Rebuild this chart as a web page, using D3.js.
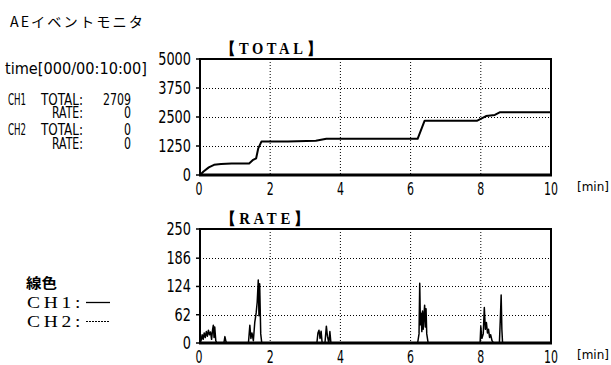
<!DOCTYPE html>
<html>
<head>
<meta charset="utf-8">
<script src="https://cdn.jsdelivr.net/npm/d3@7"></script>
<style>
  body { margin: 0; background: #fff; }
  text { fill: #000; }
</style>
</head>
<body>
<div id="chart"></div>
<script>
const width = 611;
const height = 365;

// CH1 cumulative total (minutes, count)
const totalTime = [0, 0.1, 0.25, 0.4, 0.6, 0.9, 1.4, 1.5, 1.6, 1.66, 1.75, 2.5, 3.3, 3.6, 4.0, 6.2, 6.4, 7.9, 8.15, 8.4, 8.55, 10];
const totalValue = [0, 150, 330, 440, 470, 500, 500, 640, 720, 1150, 1440, 1440, 1480, 1560, 1560, 1560, 2340, 2340, 2540, 2590, 2709, 2709];

// CH1 rate (minutes, events)
const rateTime = [0, 0.03, 0.06, 0.09, 0.12, 0.15, 0.18, 0.21, 0.24, 0.27, 0.3, 0.33, 0.36, 0.38, 0.4, 0.42, 0.45, 0.48,
  0.68, 0.71, 0.74, 0.77, 1.38, 1.42, 1.45, 1.48, 1.52, 1.56, 1.6, 1.63, 1.66, 1.68, 1.7, 1.73, 1.76,
  3.33, 3.36, 3.39, 3.42, 3.45, 3.48, 3.56, 3.6, 3.63, 3.67, 3.7, 3.73,
  6.2, 6.24, 6.26, 6.28, 6.3, 6.32, 6.34, 6.36, 6.38, 6.4, 6.42, 6.44, 6.46, 6.5,
  7.98, 8.0, 8.03, 8.07, 8.1, 8.13, 8.16, 8.19, 8.22, 8.25, 8.28, 8.32, 8.36,
  8.53, 8.56, 8.58, 8.6, 8.62, 10];
const rateValue = [0, 5, 18, 8, 22, 12, 25, 15, 28, 18, 24, 8, 30, 39, 12, 35, 5, 0,
  0, 14, 3, 0, 0, 39, 10, 22, 5, 45, 66, 90, 138, 60, 130, 20, 0,
  0, 22, 28, 10, 26, 0, 0, 37, 15, 0, 25, 0,
  0, 20, 131, 40, 65, 25, 70, 30, 60, 83, 35, 75, 20, 0,
  0, 36, 10, 20, 78, 30, 45, 22, 30, 12, 18, 5, 0,
  0, 60, 105, 30, 0, 0];

const xTicks = [0, 2, 4, 6, 8, 10];
const totalTicks = [0, 1250, 2500, 3750, 5000];
const rateTicks = [0, 62, 124, 186, 250];

const infoLines = [
  ["CH1", "TOTAL:", "2709"],
  ["", "RATE:", "0"],
  ["CH2", "TOTAL:", "0"],
  ["", "RATE:", "0"]
];

const numFont = "'DejaVu Sans Condensed', 'DejaVu Sans', sans-serif";
const serifFont = "'Liberation Serif', serif";
const cjkFont = "'Noto Sans CJK JP', sans-serif";

const svg = d3.select("#chart")
  .append("svg")
  .attr("width", width)
  .attr("height", height);

// text squeezed/stretched horizontally to a given width, height kept
function label(x, y, str, size, len, opt = {}) {
  const g = svg.append("g");
  const t = g.append("text")
    .attr("font-family", opt.family || numFont)
    .attr("font-size", size)
    .attr("font-weight", opt.weight || "normal")
    .attr("letter-spacing", opt.spacing || 0)
    .attr("text-anchor", opt.anchor || "start")
    .text(str);
  const w = t.node().getComputedTextLength();
  const sx = len && w ? len / w : 1;
  g.attr("transform", `translate(${x},${y}) scale(${sx},1)`);
  return t;
}

// header
label(10, 27, "AEイベントモニタ", 14, 135, { family: cjkFont, spacing: 2 });
label(5, 74, "time[000/00:10:00]", 16, 142);

infoLines.forEach((row, i) => {
  const y = [105, 118, 135, 149][i];
  if (row[0]) label(8, y, row[0], 16, 18);
  label(83, y, row[1], 16, row[1] === "TOTAL:" ? 42 : 31, { anchor: "end" });
  label(131, y, row[2], 16, row[2].length * 7, { anchor: "end" });
});

// legend
label(26, 288, "線色", 14, 31, { family: cjkFont, weight: "bold" });
label(27, 308, "CH1:", 16, 57, { family: serifFont, spacing: 3 });
label(27, 327, "CH2:", 16, 57, { family: serifFont, spacing: 3 });
svg.append("line").attr("x1", 86).attr("x2", 110).attr("y1", 302.5).attr("y2", 302.5)
  .attr("stroke", "#000").attr("stroke-width", 1.3);
svg.append("line").attr("x1", 86).attr("x2", 110).attr("y1", 321.5).attr("y2", 321.5)
  .attr("stroke", "#000").attr("stroke-width", 1).attr("stroke-dasharray", "2,1");

function drawPanel(cfg) {
  const x = d3.scaleLinear().domain([0, 10]).range([200, 551]);
  const y = d3.scaleLinear().domain([0, cfg.max]).range([cfg.bottom, cfg.top]);

  // dotted grid
  svg.append("g")
    .selectAll("line")
    .data(xTicks.slice(1, -1))
    .join("line")
    .attr("x1", d => x(d)).attr("x2", d => x(d))
    .attr("y1", cfg.top).attr("y2", cfg.bottom)
    .attr("stroke", "#000").attr("stroke-width", 1).attr("stroke-dasharray", "1,2");
  svg.append("g")
    .selectAll("line")
    .data(cfg.ticks.slice(1, -1))
    .join("line")
    .attr("x1", 200).attr("x2", 551)
    .attr("y1", d => Math.round(y(d)) + 0.5).attr("y2", d => Math.round(y(d)) + 0.5)
    .attr("stroke", "#000").attr("stroke-width", 1).attr("stroke-dasharray", "1,2");

  // data line
  const pts = cfg.t.map((t, i) => [t, cfg.v[i]]);
  svg.append("path")
    .datum(pts)
    .attr("fill", "none")
    .attr("stroke", "#000")
    .attr("stroke-width", cfg.lineW)
    .attr("stroke-linejoin", "round")
    .attr("d", d3.line().x(d => x(d[0])).y(d => y(d[1])));

  // frame
  svg.append("rect")
    .attr("x", 200).attr("y", cfg.top)
    .attr("width", 351).attr("height", cfg.bottom - cfg.top)
    .attr("fill", "none").attr("stroke", "#000").attr("stroke-width", 2);
  svg.append("line")
    .attr("x1", 199).attr("x2", 552).attr("y1", cfg.bottom).attr("y2", cfg.bottom)
    .attr("stroke", "#000").attr("stroke-width", 3);

  // left ticks
  svg.append("g")
    .selectAll("line")
    .data(cfg.ticks)
    .join("line")
    .attr("x1", 196).attr("x2", 200)
    .attr("y1", d => y(d)).attr("y2", d => y(d))
    .attr("stroke", "#000").attr("stroke-width", 1.5);

  // y tick labels
  cfg.ticks.forEach(d => {
    const s = String(d);
    label(191, y(d) + 6, s, 17, s.length * 8.2, { anchor: "end" });
  });
  // x tick labels
  xTicks.forEach(d => {
    const s = String(d);
    label(x(d) + (d === 0 ? -1 : 0), cfg.bottom + 19.5, s, 17, s.length * 7, { anchor: "middle" });
  });
  label(577, cfg.bottom + 16, "[min]", 13, 32);

  // title
  label(221, cfg.top - 5, cfg.title, 16, cfg.titleLen, { family: serifFont, weight: "bold", spacing: 4 });
}

drawPanel({ top: 59, bottom: 175, max: 5000, ticks: totalTicks, t: totalTime, v: totalValue, title: "【TOTAL】", titleLen: 104, lineW: 2 });
drawPanel({ top: 229, bottom: 343, max: 250, ticks: rateTicks, t: rateTime, v: rateValue, title: "【RATE】", titleLen: 92, lineW: 1.5 });
</script>
</body>
</html>
